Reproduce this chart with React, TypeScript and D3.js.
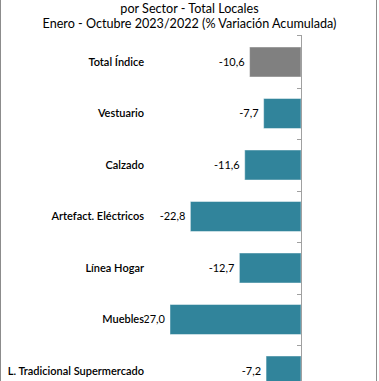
import React from "react";
import * as d3 from "d3";

const categories = [
  "Total Índice",
  "Vestuario",
  "Calzado",
  "Artefact. Eléctricos",
  "Línea Hogar",
  "Muebles",
  "L. Tradicional Supermercado",
];
const values = [-10.6, -7.7, -11.6, -22.8, -12.7, -27.0, -7.2];
const barColors = ["#808080", "#31849B", "#31849B", "#31849B", "#31849B", "#31849B", "#31849B"];
const titleLines = ["por Sector - Total Locales", "Enero - Octubre 2023/2022 (% Variación Acumulada)"];

const W = 379;
const H = 381;
const FONT = "Lato, 'Open Sans', sans-serif";

export default function App() {
  const x = d3.scaleLinear().domain([-27, 0]).range([170, 301]);
  const y = d3
    .scaleBand<string>()
    .domain(categories)
    .range([35, 398])
    .paddingInner(0.4175)
    .paddingOuter(0.233);
  const bw = y.bandwidth();
  const step = y.step();
  const gap = (step - bw) / 2;
  const x0 = x(0);
  const fmt = (v: number) => v.toFixed(1).replace(".", ",");

  return (
    <svg
      width={W}
      height={H}
      style={{ position: "absolute", left: 0, top: 0, background: "#fff" }}
      fontFamily={FONT}
    >
      <rect x={0} y={0} width={W} height={H} fill="#fff" />
      <line x1={0.5} x2={0.5} y1={0} y2={H} stroke="#8c8c8c" />
      <line x1={376.5} x2={376.5} y1={0} y2={H} stroke="#8c8c8c" />
      {titleLines.map((t, i) => (
        <text key={i} x={189.5} y={13 + i * 15} textAnchor="middle" fontSize={12.6} fill="#000">
          {t}
        </text>
      ))}
      {categories.map((c, i) => (
        <rect
          key={c}
          x={x(values[i])}
          y={y(c)!}
          width={x0 - x(values[i])}
          height={bw}
          fill={barColors[i]}
          stroke="rgba(255,255,255,0.45)"
          strokeWidth={1}
        />
      ))}
      <line x1={x0 + 0.5} x2={x0 + 0.5} y1={35} y2={H} stroke="#a0a0a0" />
      {categories.map((c, i) => {
        const ty = i === 0 ? 35.5 : Math.round(y(c)! - gap) + 0.5;
        return <line key={c} x1={x0 - 4} x2={x0 + 0.5} y1={ty} y2={ty} stroke="#a0a0a0" />;
      })}
      {categories.map((c, i) => (
        <text
          key={c}
          x={x(values[i]) - 5}
          y={y(c)! + bw / 2}
          dy="0.35em"
          textAnchor="end"
          fontSize={11}
          fill="#000"
        >
          {fmt(values[i])}
        </text>
      ))}
      {categories.map((c, i) => (
        <text
          key={c}
          x={144}
          y={y(c)! + bw / 2}
          dy="0.35em"
          textAnchor="end"
          fontSize={11}
          fontWeight={600}
          fill="#000"
          stroke="#fff"
          strokeWidth={2}
          paintOrder="stroke"
        >
          {c}
        </text>
      ))}
    </svg>
  );
}
